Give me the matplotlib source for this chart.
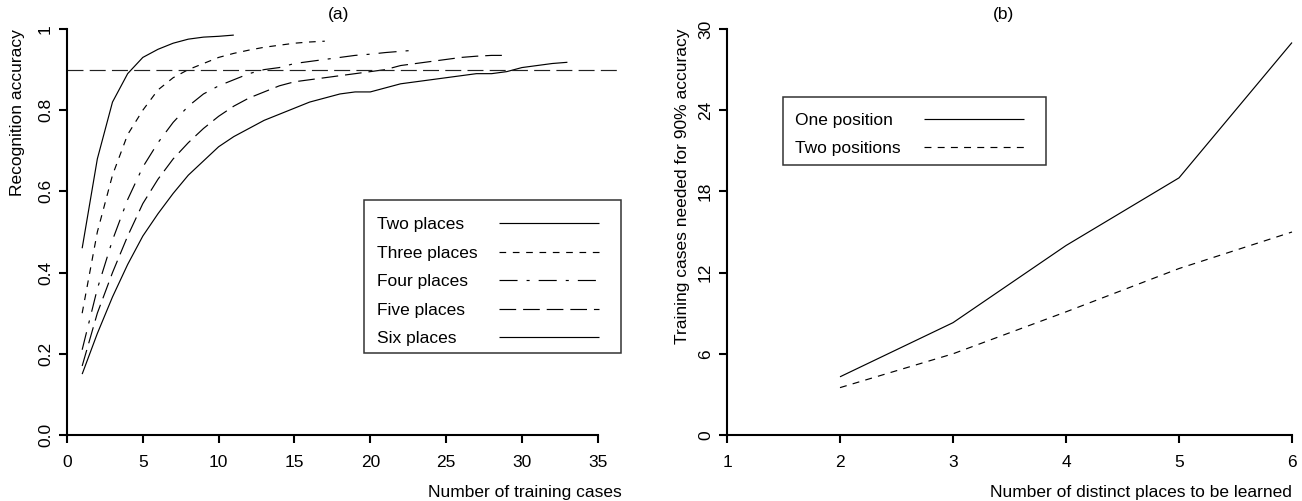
import matplotlib
matplotlib.use("Agg")
import matplotlib.pyplot as plt
from matplotlib.lines import Line2D
from matplotlib.patches import Rectangle

plt.rcParams['font.family'] = ['Liberation Sans', 'DejaVu Sans']
plt.rcParams['font.size'] = 12.5
plt.rcParams['lines.scale_dashes'] = False

W, H = 1302, 501

# ---- panel (a): recognition accuracy vs number of training cases ----
acc_two = [0.46, 0.68, 0.82, 0.89, 0.93, 0.95, 0.965, 0.975, 0.98, 0.982, 0.985]
acc_three = [0.30, 0.50, 0.64, 0.74, 0.80, 0.85, 0.88, 0.90, 0.915, 0.93, 0.94,
             0.948, 0.955, 0.96, 0.965, 0.968, 0.97]
acc_four = [0.21, 0.36, 0.48, 0.58, 0.66, 0.72, 0.77, 0.81, 0.84, 0.86, 0.875,
            0.89, 0.90, 0.905, 0.915, 0.92, 0.925, 0.93, 0.935, 0.938, 0.942,
            0.945, 0.948]
acc_five = [0.17, 0.30, 0.40, 0.49, 0.57, 0.63, 0.68, 0.72, 0.755, 0.785, 0.81,
            0.83, 0.845, 0.86, 0.87, 0.875, 0.88, 0.885, 0.89, 0.895, 0.90,
            0.91, 0.915, 0.92, 0.925, 0.93, 0.933, 0.935, 0.935]
acc_six = [0.15, 0.25, 0.34, 0.42, 0.49, 0.545, 0.595, 0.64, 0.675, 0.71, 0.735,
           0.755, 0.775, 0.79, 0.805, 0.82, 0.83, 0.84, 0.845, 0.845, 0.855,
           0.865, 0.87, 0.875, 0.88, 0.885, 0.89, 0.89, 0.895, 0.905, 0.91,
           0.915, 0.918]
labels_a = ['Two places', 'Three places', 'Four places', 'Five places', 'Six places']
target_acc = 0.9

# ---- panel (b): training cases needed for 90% accuracy ----
places = [2, 3, 4, 5, 6]
cases_one = [4.3, 8.3, 14.0, 19.0, 29.0]
cases_two = [3.5, 6.0, 9.1, 12.3, 15.0]
labels_b = ['One position', 'Two positions']

styles_a = [(0, ()), (0, (4.8, 4.8)), (0, (13, 6.5, 2.2, 6.5)), (0, (12, 5)), (0, ())]
styles_b = [(0, ()), (0, (5, 4.5))]
LW = 0.85


def fx(px):
    return px / W


def fy(py):
    return 1 - py / H


def make_axes(x0, x1, y0, y1):
    return fig.add_axes([fx(x0), fy(y1), fx(x1) - fx(x0), fy(y0) - fy(y1)])


def style_axes(ax, xb, yb):
    for s in ['top', 'right']:
        ax.spines[s].set_visible(False)
    for s in ['left', 'bottom']:
        ax.spines[s].set_linewidth(1.5)
    ax.spines['bottom'].set_bounds(*xb)
    ax.spines['left'].set_bounds(*yb)
    ax.tick_params(direction='out', length=5.8, width=1.5, labelsize=12.5)
    ax.tick_params(axis='x', pad=8.5)
    ax.tick_params(axis='y', pad=4.3)
    for t in ax.get_yticklabels():
        t.set_rotation(90)
        t.set_va('center')


def draw_legend(labels, styles, box, text_x, line_x, ys):
    bx0, by0, bx1, by1 = box
    fig.patches.append(Rectangle((fx(bx0), fy(by1)), fx(bx1) - fx(bx0), fy(by0) - fy(by1),
                                 transform=fig.transFigure, fill=False,
                                 edgecolor='#333333', linewidth=1.1))
    for lab, ls, y in zip(labels, styles, ys):
        fig.text(fx(text_x), fy(y + 6.3), lab, ha='left', va='baseline', fontsize=12.5)
        fig.lines.append(Line2D([fx(line_x[0]), fx(line_x[1])], [fy(y), fy(y)],
                                transform=fig.transFigure, color='black',
                                linewidth=LW, linestyle=ls))


fig = plt.figure(figsize=(W / 100, H / 100), dpi=100)

# panel (a)
ax1 = make_axes(67, 622, 29, 435)
series_a = [acc_two, acc_three, acc_four, acc_five, acc_six]
for vals, ls in zip(series_a, styles_a):
    ax1.plot(range(1, len(vals) + 1), vals, color='black', linewidth=LW, linestyle=ls)
ax1.axhline(target_acc, color='#222222', linewidth=LW, linestyle=(0, (11.5, 4.5)))
ax1.set_xlim(0, 36.6)
ax1.set_ylim(0, 1)
ax1.set_xticks(range(0, 36, 5))
ax1.set_yticks([0, 0.2, 0.4, 0.6, 0.8, 1.0])
ax1.set_yticklabels(['0.0', '0.2', '0.4', '0.6', '0.8', '1'])
style_axes(ax1, (0, 35), (0, 1))

# panel (b)
ax2 = make_axes(727, 1292, 29, 435)
for vals, ls in zip([cases_one, cases_two], styles_b):
    ax2.plot(places, vals, color='black', linewidth=LW, linestyle=ls, clip_on=False)
ax2.set_xlim(1, 6)
ax2.set_ylim(0, 30)
ax2.set_xticks(range(1, 7))
ax2.set_yticks(range(0, 31, 6))
style_axes(ax2, (1, 6), (0, 30))

# titles and axis labels (axis labels flush with the top / right of the plot)
fig.text(fx(339), fy(15), '(a)', ha='center', va='center')
fig.text(fx(1004), fy(15), '(b)', ha='center', va='center')
fig.text(fx(622), fy(492), 'Number of training cases', ha='right', va='center')
fig.text(fx(1292), fy(492), 'Number of distinct places to be learned', ha='right', va='center')
fig.text(fx(18), fy(29), 'Recognition accuracy', rotation=90, ha='center', va='top')
fig.text(fx(682), fy(29), 'Training cases needed for 90% accuracy', rotation=90,
         ha='center', va='top')

# legends
draw_legend(labels_a, styles_a, (364, 200, 621, 353), 377, (499, 599),
            [223, 251.5, 280, 308.5, 337])
draw_legend(labels_b, styles_b, (783, 97, 1046, 165), 795, (924, 1024), [119, 147])

fig.savefig('out.png', dpi=100)
